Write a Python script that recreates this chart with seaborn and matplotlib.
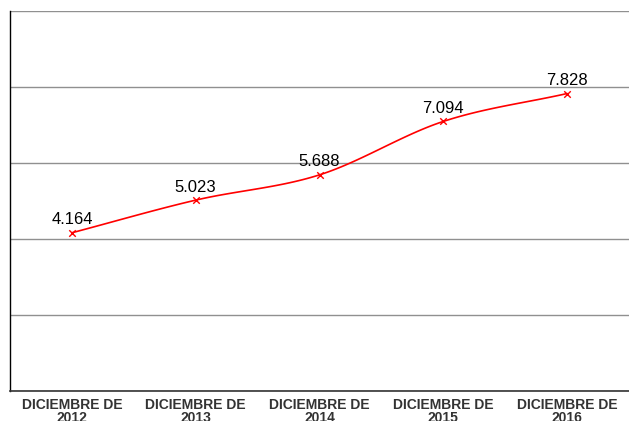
import numpy as np
import matplotlib
matplotlib.use("Agg")
import matplotlib.pyplot as plt
import seaborn as sns

categories = ["DICIEMBRE DE\n2012", "DICIEMBRE DE\n2013", "DICIEMBRE DE\n2014",
              "DICIEMBRE DE\n2015", "DICIEMBRE DE\n2016"]
values = [4.164, 5.023, 5.688, 7.094, 7.828]
labels = ["4.164", "5.023", "5.688", "7.094", "7.828"]


def smooth(x, y, n=30):
    # catmull-rom style curve through the points, like a smoothed excel line
    x = np.asarray(x, float)
    y = np.asarray(y, float)
    px = np.concatenate([[2 * x[0] - x[1]], x, [2 * x[-1] - x[-2]]])
    py = np.concatenate([[2 * y[0] - y[1]], y, [2 * y[-1] - y[-2]]])
    xs, ys = [], []
    t = np.linspace(0, 1, n)
    for i in range(1, len(px) - 2):
        for p, out in ((px, xs), (py, ys)):
            p0, p1, p2, p3 = p[i - 1], p[i], p[i + 1], p[i + 2]
            out.extend(0.5 * (2 * p1 + (-p0 + p2) * t
                              + (2 * p0 - 5 * p1 + 4 * p2 - p3) * t ** 2
                              + (-p0 + 3 * p1 - 3 * p2 + p3) * t ** 3))
    return np.array(xs), np.array(ys)


sns.set_style("white")
plt.rcParams["font.family"] = ["Liberation Sans", "DejaVu Sans"]

fig = plt.figure(figsize=(6.29, 4.21), dpi=100)
ax = fig.add_axes([10 / 629, 1 - 391 / 421, 1 - 10 / 629, 380 / 421])

x = np.arange(len(values))
sx, sy = smooth(x, values)
ax.plot(sx, sy, color="red", lw=1.2, zorder=3)
sns.scatterplot(x=x, y=values, marker="x", color="red", s=22, linewidth=1.0, ax=ax, zorder=4)

for xi, v, lab in zip(x, values, labels):
    ax.annotate(lab, (xi, v), xytext=(0, 4), textcoords="offset points",
                ha="center", va="bottom", fontsize=12, color="black")

ax.set_xlim(-0.5, 4.5)
ax.set_ylim(0, 10)
ax.set_yticks([0, 2, 4, 6, 8, 10])
ax.set_yticklabels([])
ax.yaxis.grid(True, color="#909090", lw=1)
ax.set_axisbelow(True)
ax.set_xticks(x)
ax.set_xticklabels(categories, fontsize=10, fontweight="bold", color="#333333", linespacing=0.9)
ax.tick_params(axis="both", length=0)
ax.tick_params(axis="x", pad=5)
for s in ["top", "right"]:
    ax.spines[s].set_visible(False)
ax.spines["left"].set_color("black")
ax.spines["bottom"].set_color("#333333")
ax.spines["left"].set_linewidth(1)
ax.spines["bottom"].set_linewidth(1.2)

fig.savefig("out.png", dpi=100)
